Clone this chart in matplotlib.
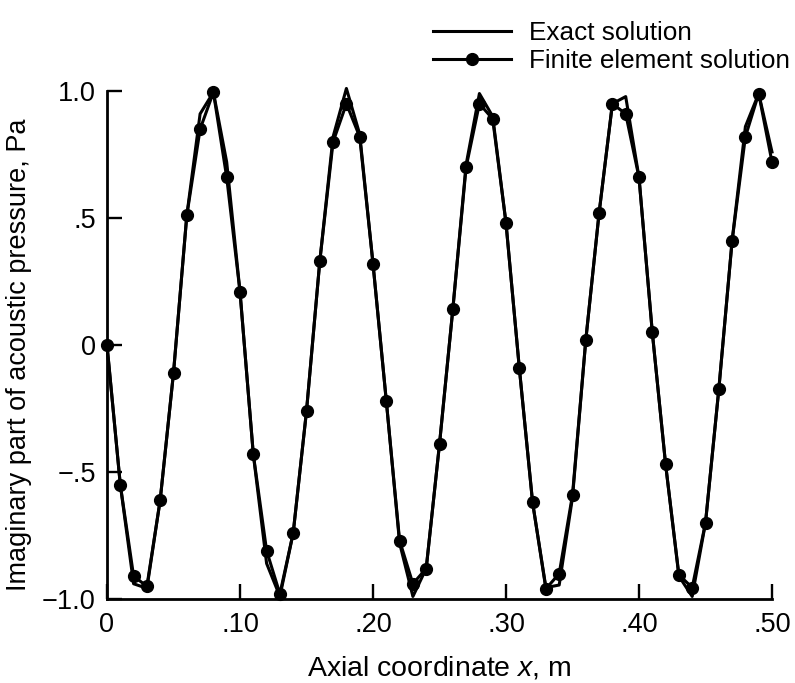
import matplotlib
matplotlib.use("Agg")
import matplotlib.pyplot as plt
import numpy as np

plt.rcParams['font.family'] = ['Liberation Sans', 'DejaVu Sans']
plt.rcParams['mathtext.fontset'] = 'custom'
plt.rcParams['mathtext.it'] = 'Liberation Sans:italic'
plt.rcParams['mathtext.rm'] = 'Liberation Sans'

x_m = [round(0.01 * i, 2) for i in range(51)]

fe_solution = [0.00, -0.55, -0.91, -0.95, -0.61, -0.11, 0.51, 0.85, 0.995, 0.66,
               0.21, -0.43, -0.81, -0.98, -0.74, -0.26, 0.33, 0.80, 0.95, 0.82,
               0.32, -0.22, -0.77, -0.94, -0.88, -0.39, 0.14, 0.70, 0.95, 0.89,
               0.48, -0.09, -0.62, -0.96, -0.90, -0.59, 0.02, 0.52, 0.95, 0.91,
               0.66, 0.05, -0.47, -0.905, -0.955, -0.70, -0.175, 0.41, 0.82, 0.99,
               0.72]

exact_solution = [0.00, -0.55, -0.94, -0.958, -0.61, -0.11, 0.51, 0.91, 0.995, 0.72,
                  0.21, -0.43, -0.86, -0.99, -0.74, -0.26, 0.33, 0.82, 1.01, 0.83,
                  0.32, -0.22, -0.78, -0.99, -0.88, -0.39, 0.14, 0.71, 0.99, 0.90,
                  0.48, -0.09, -0.62, -0.955, -0.945, -0.60, 0.02, 0.52, 0.95, 0.978,
                  0.66, 0.05, -0.47, -0.91, -0.99, -0.70, -0.175, 0.41, 0.86, 0.99,
                  0.76]

x_ticks = [0, 0.10, 0.20, 0.30, 0.40, 0.50]
x_ticklabels = ['0', '.10', '.20', '.30', '.40', '.50']
y_ticks = [-1.0, -0.5, 0, 0.5, 1.0]
y_ticklabels = ['\u22121.0', '\u2212.5', '0', '.5', '1.0']

fig = plt.figure(figsize=(7.95, 6.83), dpi=100)
ax = fig.add_axes([107/795, 1 - 599/683, (772-107)/795, (599-91)/683])

lw = 2.2
l1, = ax.plot(x_m, exact_solution, color='black', lw=lw, label='Exact solution',
              clip_on=False, zorder=3)
l2, = ax.plot(x_m, fe_solution, color='black', lw=lw, marker='o', markersize=8.5,
              label='Finite element solution', clip_on=False, zorder=4)

ax.set_xlim(0, 0.5)
ax.set_ylim(-1.0, 1.0)
ax.set_xticks(x_ticks)
ax.set_xticklabels(x_ticklabels)
ax.set_yticks(y_ticks)
ax.set_yticklabels(y_ticklabels)

for s in ['top', 'right']:
    ax.spines[s].set_visible(False)
for s in ['left', 'bottom']:
    ax.spines[s].set_linewidth(2.0)

fs = 19.5
ax.tick_params(direction='in', length=11, width=1.7, labelsize=fs, pad=8)
ax.tick_params(axis='x', pad=9)

ax.set_xlabel('Axial coordinate $x$, m', fontsize=20.5, labelpad=12)
ax.set_ylabel('Imaginary part of acoustic pressure, Pa', fontsize=fs)
ax.yaxis.set_label_coords(-0.113, 0.48)

fig.legend(handles=[l1, l2], loc='upper left', bbox_to_anchor=(433/795, 1 - 21/683),
           frameon=False, fontsize=18.8, handlelength=3.0, handletextpad=0.68,
           labelspacing=0.16, borderaxespad=0, borderpad=0)

fig.savefig('out.png', dpi=100)
